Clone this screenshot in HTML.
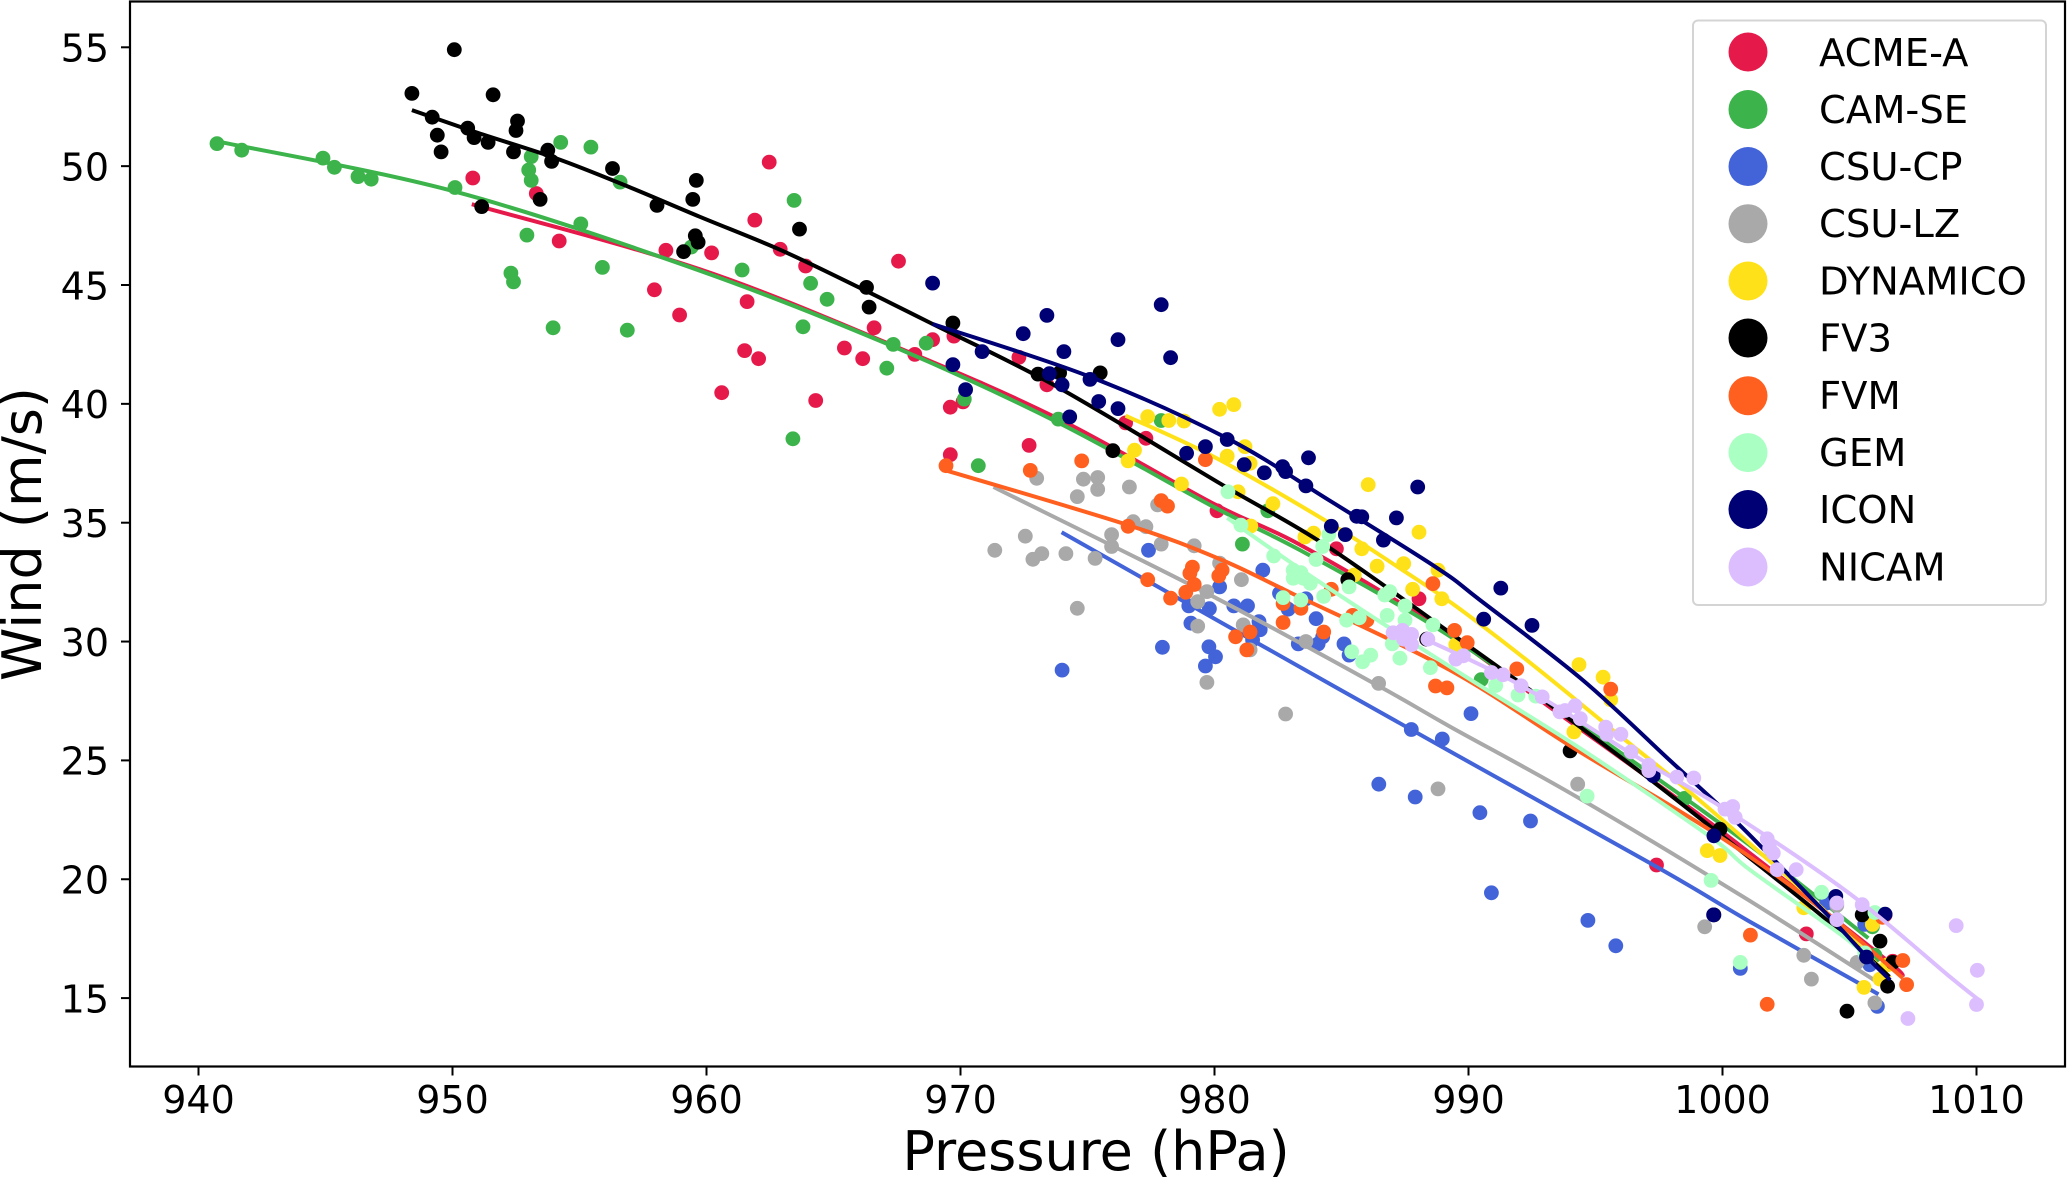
<!DOCTYPE html>
<html lang="en">
<head>
<meta charset="utf-8">
<title>Wind versus pressure by model</title>
<style>
html,body{margin:0;padding:0;background:#fff;}
svg{display:block;font-family:"DejaVu Sans","Liberation Sans",sans-serif;}
</style>
</head>
<body>
<svg id="chart" xmlns="http://www.w3.org/2000/svg" width="2067" height="1179" viewBox="0 0 2067 1179">
  <rect x="0" y="0" width="2067" height="1179" fill="#ffffff"/>
  <g id="x-axis"></g>
  <g id="y-axis"></g>
  <g id="series"></g>
  <rect x="130" y="1.5" width="1935" height="1065" fill="none" stroke="#000" stroke-width="2.2"/>
  <text x="1096" y="1170" font-size="54" text-anchor="middle" fill="#000">Pressure (hPa)</text>
  <text transform="translate(41,534) rotate(-90)" font-size="54" text-anchor="middle" fill="#000">Wind (m/s)</text>
  <g>
    <rect x="1693" y="20.5" width="353" height="584.5" rx="5" fill="#ffffff" fill-opacity="0.9" stroke="#d4d4d4" stroke-width="2"/>
    <g><circle cx="1748" cy="52" r="19.5" fill="#e6194b"/><text x="1819" y="66" font-size="38.5">ACME-A</text></g>
    <g><circle cx="1748" cy="109.5" r="19.5" fill="#3cb44b"/><text x="1819" y="123" font-size="38.5">CAM-SE</text></g>
    <g><circle cx="1748" cy="166.5" r="19.5" fill="#4363d8"/><text x="1819" y="180" font-size="38.5">CSU-CP</text></g>
    <g><circle cx="1748" cy="223.7" r="19.5" fill="#a9a9a9"/><text x="1819" y="237.2" font-size="38.5">CSU-LZ</text></g>
    <g><circle cx="1748" cy="281" r="19.5" fill="#ffe119"/><text x="1819" y="294.5" font-size="38.5">DYNAMICO</text></g>
    <g><circle cx="1748" cy="338" r="19.5" fill="#000000"/><text x="1819" y="351.5" font-size="38.5">FV3</text></g>
    <g><circle cx="1748" cy="395.7" r="19.5" fill="#ff5f1f"/><text x="1819" y="409.2" font-size="38.5">FVM</text></g>
    <g><circle cx="1748" cy="452.6" r="19.5" fill="#aaffc3"/><text x="1819" y="466.1" font-size="38.5">GEM</text></g>
    <g><circle cx="1748" cy="509.5" r="19.5" fill="#000075"/><text x="1819" y="523" font-size="38.5">ICON</text></g>
    <g><circle cx="1748" cy="567" r="19.5" fill="#dcbeff"/><text x="1819" y="580.5" font-size="38.5">NICAM</text></g>
  </g>
</svg>
<script>
const xTickLabels = [940, 950, 960, 970, 980, 990, 1000, 1010];
const yTickLabels = [15, 20, 25, 30, 35, 40, 45, 50, 55];

const seriesNames = ["acme-a", "cam-se", "csu-cp", "csu-lz", "dynamico", "fv3", "fvm", "gem", "icon", "nicam"];

const acmeAPoints = [[962.47,50.17],[950.8,49.5],[953.3,48.85],[954.2,46.85],[961.9,47.73],[958.4,46.46],[960.2,46.35],[962.9,46.5],[963.9,45.8],[967.56,46.0],[957.95,44.8],[961.6,44.3],[958.94,43.74],[961.5,42.24],[962.05,41.9],[966.6,43.2],[968.9,42.7],[969.74,42.85],[965.43,42.35],[966.15,41.9],[968.2,42.08],[960.6,40.47],[964.3,40.14],[970.1,40.08],[969.6,39.86],[969.6,37.86],[972.7,38.25],[972.3,41.96],[973.4,40.8],[976.5,39.2],[977.3,38.55],[980.1,35.5],[984.8,33.9],[988.05,31.8],[997.4,20.6],[1003.3,17.7],[1006.7,16.55],[1006.4,18.5]];
const acmeALinePressure = [950.76,959.74,967.47,973.8,979.96,983.36,988.56,993.38,998.5,1001.07,1006.46,1007.06];
const acmeALineWind = [48.4,45.66,42.4,39.4,35.8,34.08,30.78,27.1,23.18,21.1,16.6,15.9];

const camSePoints = [[940.73,50.95],[941.7,50.67],[944.9,50.34],[945.35,49.95],[946.28,49.56],[946.8,49.45],[950.1,49.1],[953.1,50.4],[953.0,49.84],[953.1,49.4],[954.26,51.0],[955.45,50.8],[956.6,49.33],[955.05,47.57],[952.93,47.1],[952.3,45.5],[952.4,45.13],[953.96,43.2],[956.88,43.1],[955.9,45.74],[959.4,46.6],[961.4,45.63],[963.45,48.56],[964.1,45.07],[964.75,44.4],[963.8,43.24],[967.35,42.5],[967.1,41.5],[968.65,42.55],[963.4,38.53],[970.15,40.2],[970.7,37.4],[973.85,39.36],[977.9,39.3],[981.1,34.1],[982.1,35.5],[990.5,28.4],[998.5,23.4],[1005.9,18],[1006,16.8]];
const camSeLinePressure = [940.8,950.1,959.74,967.38,973.9,979.96,983.36,988.56,993.38,998.45,1002.05,1005.74];
const camSeLineWind = [51.03,48.93,45.6,42.4,39.18,35.67,33.85,30.7,27.25,23.47,20.64,17.52];

const csuCpPoints = [[974.0,28.8],[977.95,29.76],[979.78,29.78],[980.04,29.36],[979.64,28.97],[979.07,30.77],[978.99,31.5],[979.8,31.38],[980.2,32.3],[980.76,31.5],[981.3,31.5],[981.75,30.84],[981.8,30.5],[981.5,30.07],[981.9,33.0],[982.56,32.03],[982.9,31.36],[983.6,31.8],[984,30.96],[983.3,29.9],[984.08,29.9],[985.1,29.9],[985.3,29.43],[984.26,30.2],[977.4,33.84],[990.1,26.97],[987.75,26.3],[988.97,25.9],[986.47,24.0],[987.9,23.46],[990.45,22.8],[992.44,22.45],[990.9,19.43],[994.7,18.27],[995.8,17.2],[1000.7,16.25],[1006.1,14.65],[1005.6,18.1],[1005.8,16.4],[1004.1,19]];
const csuCpLinePressure = [973.98,981.7,989.27,997.4,1001.07,1006.14];
const csuCpLineWind = [34.6,29.93,25.38,20.53,18.22,15.16];

const csuLzPoints = [[973,36.87],[974.84,36.83],[975.4,36.9],[975.4,36.4],[974.6,36.1],[976.65,36.5],[977.76,35.75],[976.8,35.04],[977.3,34.83],[975.95,34.5],[975.95,34],[972.55,34.43],[971.35,33.84],[973.2,33.7],[972.85,33.46],[974.15,33.7],[975.3,33.5],[977.9,34.1],[979.2,34.03],[974.6,31.4],[980.2,33.3],[981.06,32.6],[979.7,32.1],[979.34,31.68],[979.34,30.65],[981.13,30.7],[981.4,29.65],[983.6,30],[979.7,28.28],[982.8,26.95],[986.46,28.24],[988.8,23.8],[994.3,24.0],[999.3,18],[1003.2,16.8],[1003.5,15.8],[1006,14.8],[1005.3,16.5],[1004.5,18.9],[1005.9,18.1]];
const csuLzLinePressure = [971.3,979.7,986.45,989.27,994.26,1000.8,1006.06];
const csuLzLineWind = [36.5,32.03,28.14,26.42,23.47,19.27,15.7];

const dynamicoPoints = [[980.2,39.77],[980.76,39.97],[977.37,39.46],[978.2,39.3],[978.8,39.28],[981.2,38.2],[980.5,37.8],[981.4,37.5],[976.85,38.05],[976.6,37.6],[978.7,36.63],[980.93,36.3],[982.3,35.8],[981.43,34.86],[983.9,34.56],[983.56,34.4],[986.05,36.6],[985.8,33.9],[986.4,33.17],[985.5,32.8],[988.05,34.6],[987.45,33.28],[988.8,33],[987.8,32.2],[988.95,31.8],[989.5,29.87],[994.35,29.03],[995.3,28.5],[995.6,27.55],[994.15,26.2],[999.4,21.2],[999.9,21],[1003.2,18.8],[1005.57,15.45],[1006.2,15.8],[1005.9,18.1],[1006.5,16.4]];
const dynamicoLinePressure = [976.5,979.96,984.35,987.3,989.53,992.55,995.83,998.45,1001.07,1003.9,1006.6];
const dynamicoLineWind = [39.5,37.78,35.1,33.08,31.47,29,26.15,23.9,21.5,18.8,15.85];

const fv3Points = [[950.07,54.9],[948.4,53.06],[951.6,53.0],[949.2,52.06],[952.56,51.9],[949.4,51.3],[950.6,51.6],[950.85,51.2],[951.4,51.0],[952.5,51.5],[949.55,50.6],[952.4,50.6],[953.75,50.67],[953.9,50.2],[951.15,48.3],[953.45,48.6],[956.3,49.9],[959.6,49.4],[958.05,48.35],[959.46,48.6],[959.56,47.07],[959.67,46.8],[959.1,46.4],[963.66,47.35],[966.3,44.9],[966.4,44.07],[969.7,43.4],[973.05,41.25],[973.9,41.3],[976,38.03],[975.5,41.3],[985.25,32.6],[988.35,30.1],[994,25.4],[999.9,22.1],[999.66,18.5],[1004.9,14.45],[1006.5,15.5],[1006.2,17.4],[1005.5,18.5],[1006.7,16.5]];
const fv3LinePressure = [948.4,951,954.15,957,959.74,962.9,965.9,968.9,973.8,980.3,984.35,989.3,992.42,997.15,1001.07,1004.35,1006.57];
const fv3LineWind = [52.36,51.4,50.3,49.1,47.87,46.48,44.95,43.36,40.72,36.6,34.07,30.35,27.96,24.2,20.9,18.07,15.9];

const fvmPoints = [[969.43,37.4],[972.75,37.2],[974.77,37.6],[979.64,37.65],[977.9,35.93],[978.15,35.7],[976.6,34.85],[979.13,33.13],[979.03,32.87],[979.2,32.4],[978.87,32.07],[977.37,32.6],[978.27,31.83],[980.3,33],[980.17,32.76],[981.4,30.4],[980.83,30.2],[981.27,29.65],[982.7,30.8],[984.3,30.4],[984.6,32.2],[982.7,31.6],[983.4,31.4],[985.44,31.1],[986,30.9],[988.6,32.44],[989.45,30.47],[989.95,29.95],[988.7,28.13],[989.15,28.05],[991.9,28.85],[995.6,28.0],[1001.1,17.65],[1001.76,14.74],[1007.1,16.58],[1007.25,15.57],[1006.3,18.4]];
const fvmLinePressure = [969.43,976.6,980.14,983.1,989.27,994.26,999.5,1003.8,1007.1];
const fvmLineWind = [37.2,34.9,33.5,32,28.8,25.44,22.07,18.83,15.84];

const gemPoints = [[980.53,36.3],[981.04,34.9],[984.5,34.5],[984.26,34],[984,33.45],[982.33,33.6],[983.1,33],[983.4,32.9],[983.1,32.66],[983.77,32.45],[983.5,32.66],[985.3,32.3],[984.3,31.9],[986.7,31.96],[986.9,32.1],[982.7,31.85],[983.4,31.75],[986.8,31.1],[985.2,30.9],[985.7,31],[987,29.9],[985.4,29.57],[986.15,29.43],[985.83,29.15],[987.3,29.3],[987.5,31.5],[988.6,30.7],[987.5,30.9],[988.5,28.9],[991.07,28.15],[991.95,27.75],[992.65,27.7],[994.67,23.5],[999.55,19.95],[1000.7,16.5],[1003.9,19.45],[1006,18.6],[1005.6,16.9]];
const gemLinePressure = [980.5,984,989.27,994.26,999.5,1001.07,1004.75,1006];
const gemLineWind = [35.2,32.6,28.94,25.6,21.8,20.4,17.6,16.4];

const iconPoints = [[968.9,45.08],[973.4,43.72],[977.9,44.17],[972.47,42.95],[974.07,42.2],[976.2,42.7],[978.27,41.94],[970.85,42.2],[969.7,41.65],[970.2,40.6],[973.5,41.27],[974,40.8],[975.1,41.03],[975.44,40.1],[976.2,39.8],[974.3,39.45],[979.64,38.2],[978.9,37.92],[980.5,38.5],[981.17,37.44],[981.96,37.1],[982.68,37.36],[982.8,37.15],[983.7,37.73],[983.6,36.55],[985.6,35.27],[985.8,35.25],[984.6,34.85],[985.15,34.5],[987.16,35.2],[986.65,34.27],[988,36.5],[991.27,32.25],[990.6,30.94],[992.5,30.68],[997.27,24.36],[999.66,21.83],[999.65,18.5],[1006.4,18.53],[1004.46,19.28],[1005.67,16.73]];
const iconLinePressure = [968.9,975.1,980.5,984.5,988.76,990.45,994.5,997.93,999.77,1001.07,1004.2,1005.67,1006.6];
const iconLineWind = [43.36,41.14,38.55,35.95,33.1,31.75,28.38,25,23.2,21.86,18.43,16.74,15.76];

const nicamPoints = [[987.03,30.37],[987.4,30.47],[987.76,30.3],[987.45,30.1],[987.76,29.87],[988.4,30.1],[989.5,29.26],[989.8,29.4],[990.9,28.7],[991.36,28.6],[992.07,28.14],[992.9,27.67],[993.6,27.04],[993.8,27.1],[994.2,27.3],[994.4,26.76],[995.4,26.4],[995.44,26.1],[996,26.1],[996.4,25.36],[997.1,24.8],[997.1,24.57],[998.2,24.3],[998.87,24.26],[1000.1,22.95],[1000.4,23.06],[1000.5,22.6],[1001.76,21.7],[1001.86,21.3],[1002,21.1],[1002.15,20.4],[1002.9,20.4],[1004.5,19],[1004.5,18.3],[1005.5,18.93],[1009.2,18.05],[1010.03,16.17],[1010,14.73],[1007.3,14.14]];
const nicamLinePressure = [988.3,992.15,996.6,1000.17,1005,1008.95,1010.05];
const nicamLineWind = [30.1,28.1,25.16,22.9,19.4,15.9,14.96];

const seriesColors = ["#e6194b", "#3cb44b", "#4363d8", "#a9a9a9", "#ffe119", "#000000", "#ff5f1f", "#aaffc3", "#000075", "#dcbeff"];

const seriesPoints = [acmeAPoints, camSePoints, csuCpPoints, csuLzPoints, dynamicoPoints, fv3Points, fvmPoints, gemPoints, iconPoints, nicamPoints];
const seriesLinePressures = [acmeALinePressure, camSeLinePressure, csuCpLinePressure, csuLzLinePressure, dynamicoLinePressure, fv3LinePressure, fvmLinePressure, gemLinePressure, iconLinePressure, nicamLinePressure];
const seriesLineWinds = [acmeALineWind, camSeLineWind, csuCpLineWind, csuLzLineWind, dynamicoLineWind, fv3LineWind, fvmLineWind, gemLineWind, iconLineWind, nicamLineWind];

const SVG_NS = "http://www.w3.org/2000/svg";

function xScale(pressure) {
  return 198.5 + (pressure - 940) * 25.4;
}
function yScale(wind) {
  return 47.3 + (55 - wind) * 23.77;
}
function make(tag, attrs, parent) {
  const el = document.createElementNS(SVG_NS, tag);
  Object.keys(attrs).forEach(function (k) { el.setAttribute(k, attrs[k]); });
  parent.appendChild(el);
  return el;
}
function smoothPath(pts) {
  let d = "M" + pts[0][0].toFixed(1) + " " + pts[0][1].toFixed(1);
  for (let i = 0; i < pts.length - 1; i++) {
    const p0 = pts[Math.max(i - 1, 0)];
    const p1 = pts[i];
    const p2 = pts[i + 1];
    const p3 = pts[Math.min(i + 2, pts.length - 1)];
    const c1x = p1[0] + (p2[0] - p0[0]) / 6;
    const c1y = p1[1] + (p2[1] - p0[1]) / 6;
    const c2x = p2[0] - (p3[0] - p1[0]) / 6;
    const c2y = p2[1] - (p3[1] - p1[1]) / 6;
    d += "C" + c1x.toFixed(1) + " " + c1y.toFixed(1) + " " + c2x.toFixed(1) + " " + c2y.toFixed(1) + " " + p2[0].toFixed(1) + " " + p2[1].toFixed(1);
  }
  return d;
}

const xAxisGroup = document.getElementById("x-axis");
xTickLabels.forEach(function (label) {
  const x = xScale(label);
  const tick = make("line", {x1: x, x2: x, y1: 1066.5, y2: 1075.5, stroke: "#000", "stroke-width": 2}, xAxisGroup);
  
  
  const text = make("text", {x: x, y: 1113, "font-size": 38, "text-anchor": "middle", fill: "#000"}, xAxisGroup);
  text.textContent = String(label);
  
  
});

const yAxisGroup = document.getElementById("y-axis");
yTickLabels.forEach(function (label) {
  const y = yScale(label);
  const tick = make("line", {x1: 121, x2: 130, y1: y, y2: y, stroke: "#000", "stroke-width": 2}, yAxisGroup);
  
  
  const text = make("text", {x: 109, y: y + 14.3, "font-size": 38, "text-anchor": "end", fill: "#000"}, yAxisGroup);
  text.textContent = String(label);
  
  
});

const seriesLayer = document.getElementById("series");
seriesNames.forEach(function (name, i) {
  const group = make("g", {}, seriesLayer);
  
  
  const pressures = seriesLinePressures[i];
  const winds = seriesLineWinds[i];
  const coords = pressures.map(function (p, j) {
    return [xScale(p), yScale(winds[j])];
  });
  const fit = make("path", {d: smoothPath(coords), fill: "none", stroke: seriesColors[i], "stroke-width": 4}, group);
  
  
  seriesPoints[i].forEach(function (pt) {
    const dot = make("circle", {cx: xScale(pt[0]).toFixed(1), cy: yScale(pt[1]).toFixed(1), r: 7.4, fill: seriesColors[i]}, group);
    
    
  });
});
</script>
</body>
</html>
